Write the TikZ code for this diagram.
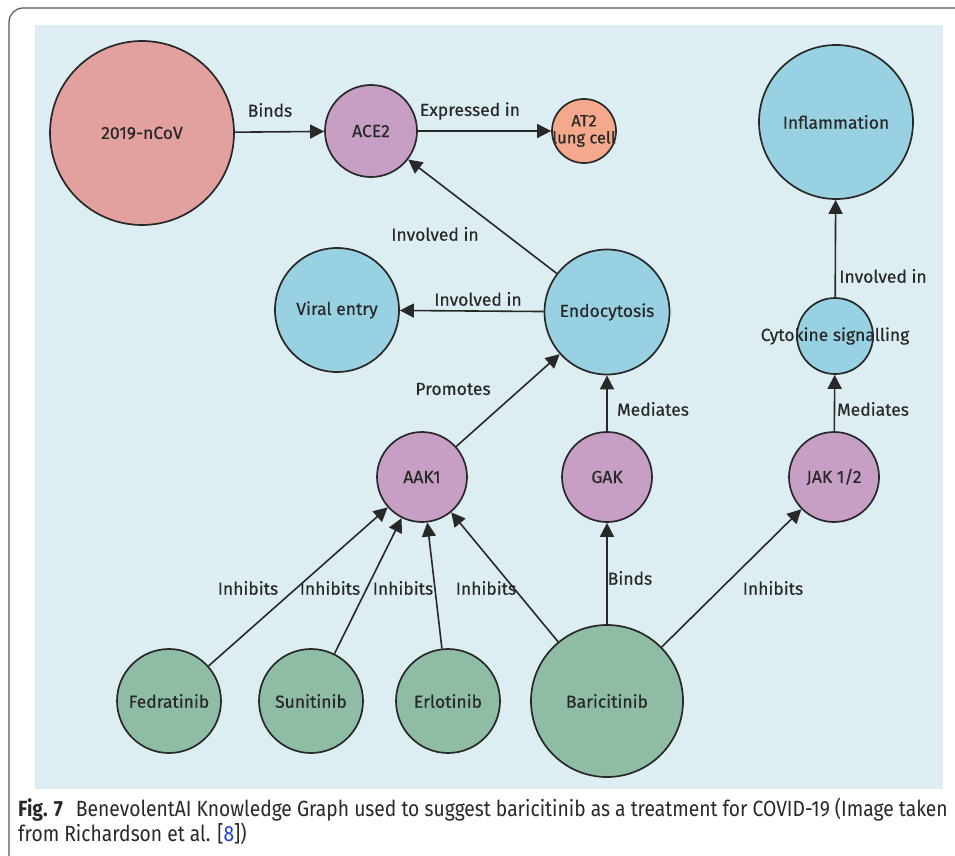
\documentclass[tikz,border=0pt]{standalone}
\usepackage{fontspec}
\setmainfont[FakeBold=0.35]{Fira Sans}
\newfontfamily\capfont[FakeStretch=0.875]{Fira Sans}
\usetikzlibrary{arrows.meta}
\definecolor{bgblue}{RGB}{221,238,243}
\definecolor{virus}{RGB}{226,160,158}
\definecolor{mauve}{RGB}{199,158,196}
\definecolor{peach}{RGB}{244,169,140}
\definecolor{procblue}{RGB}{152,209,226}
\definecolor{drug}{RGB}{143,188,164}
\definecolor{ink}{RGB}{40,40,40}
\definecolor{framegray}{RGB}{90,90,90}
\definecolor{refblue}{RGB}{30,60,220}
\tikzset{
  nd/.style={circle, draw=ink, line width=1.7pt, inner sep=0pt, minimum size=#1, text=ink, font=\fontsize{17.5}{20}\selectfont},
  lbl/.style={text=ink, font=\fontsize{17.5}{20}\selectfont, inner sep=1pt},
  arr/.style={draw=ink, line width=1.6pt, -{Triangle[length=14pt,width=14pt]}},
}
\begin{document}
\begin{tikzpicture}[x=1pt,y=-1pt]
\useasboundingbox (0,0) rectangle (955,856);
\clip (0,0) rectangle (955,856);
\fill[white] (0,0) rectangle (955,856);
\draw[framegray, line width=1.2pt, rounded corners=14pt] (9,8) rectangle (990,880);
\fill[bgblue] (35,25) rectangle (943,789);

% nodes
\node[nd=184pt, fill=virus] (nc) at (142,133) {2019-nCoV};
\node[nd=92pt, fill=mauve] (ace) at (371,131) {ACE2};
\node[nd=64pt, fill=peach, label={[lbl, align=center, font=\fontsize{16.5}{17}\selectfont]center:AT2\\lung cell}] (at2) at (584,131) {};
\node[nd=154pt, fill=procblue] (infl) at (836,122) {Inflammation};
\node[nd=124pt, fill=procblue] (vir) at (337,310) {Viral entry};
\node[nd=125pt, fill=procblue] (endo) at (607,312) {Endocytosis};
\node[nd=76pt, fill=procblue, label={[lbl]center:Cytokine signalling}] (cyt) at (835,336) {};
\node[nd=90pt, fill=mauve] (aak) at (422,477) {AAK1};
\node[nd=90pt, fill=mauve] (gak) at (607,477) {GAK};
\node[nd=90pt, fill=mauve] (jak) at (834,477) {JAK 1/2};
\node[nd=104pt, fill=drug] (fed) at (169,701) {Fedratinib};
\node[nd=104pt, fill=drug] (sun) at (311,701) {Sunitinib};
\node[nd=104pt, fill=drug] (erl) at (448,701) {Erlotinib};
\node[nd=152pt, fill=drug] (bar) at (607,701) {Baricitinib};

% connectors
\draw[arr] (nc) -- (ace);
\draw[arr] (ace) -- (at2);
\draw[arr] (endo) -- (ace);
\draw[arr] (endo) -- (vir);
\draw[arr] (aak) -- (endo);
\draw[arr] (gak) -- (endo);
\draw[arr] (jak) -- (cyt);
\draw[arr] (cyt) -- (infl);
\draw[arr] (fed) -- (aak);
\draw[arr] (sun) -- (aak);
\draw[arr] (erl) -- (aak);
\draw[arr] (bar) -- (aak);
\draw[arr] (bar) -- (gak);
\draw[arr] (bar) -- (jak);

% edge labels
\node[lbl] (l1) at (270,110) {Binds};
\node[lbl] (l2) at (470,111) {Expressed in};
\node[lbl] (l3) at (435,234) {Involved in};
\node[lbl] (l4) at (478,299) {Involved in};
\node[lbl] (l5) at (453,389) {Promotes};
\node[lbl] (l6) at (653,409) {Mediates};
\node[lbl] (l7) at (873,409) {Mediates};
\node[lbl] (l8) at (883,276) {Involved in};
\node[lbl] (l9) at (248,588) {Inhibits};
\node[lbl] (l10) at (330,588) {Inhibits};
\node[lbl] (l11) at (403,588) {Inhibits};
\node[lbl] (l12) at (486,588) {Inhibits};
\node[lbl] (l13) at (630,578) {Binds};
\node[lbl] (l14) at (773,588) {Inhibits};

% caption
\node[anchor=west, inner sep=0pt, text=ink, font=\capfont\fontsize{22}{24}\selectfont] (cap1) at (18,810) {\textbf{Fig. 7}\hspace{0.6em}BenevolentAI Knowledge Graph used to suggest baricitinib as a treatment for COVID-19 (Image taken};
\node[anchor=west, inner sep=0pt, text=ink, font=\capfont\fontsize{22}{24}\selectfont] (cap2) at (18,834) {from Richardson et al. [\textcolor{refblue}{8}])};
\end{tikzpicture}
\end{document}
